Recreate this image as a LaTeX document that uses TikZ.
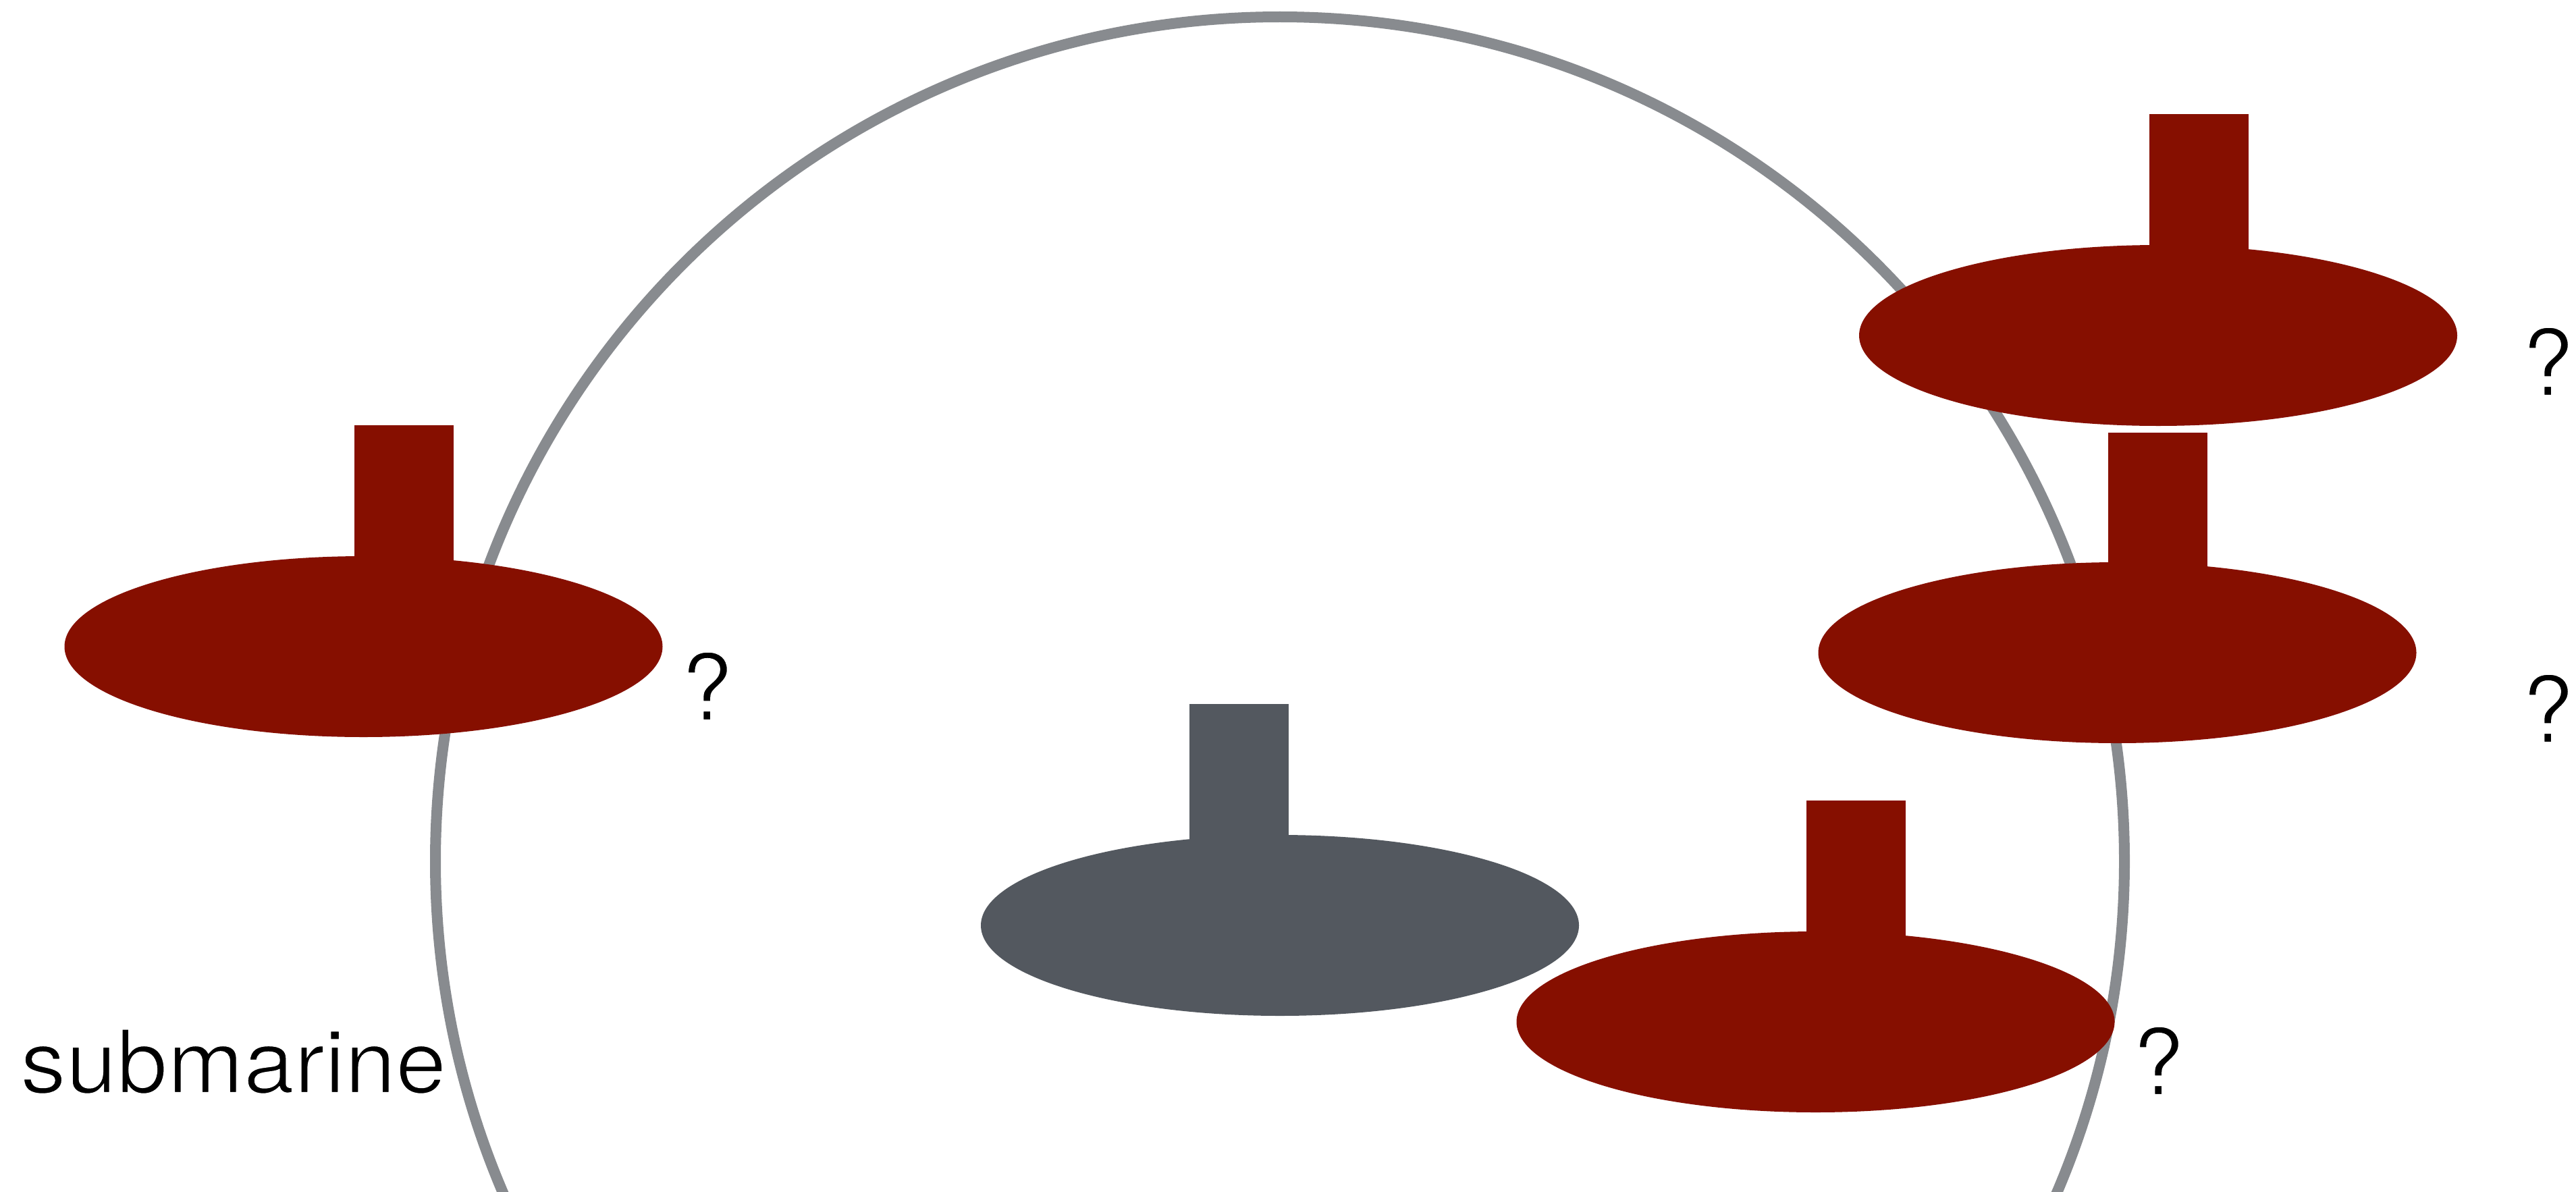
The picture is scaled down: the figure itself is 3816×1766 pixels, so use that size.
\documentclass[tikz,border=0pt]{standalone}
\usepackage{fontspec}
\setmainfont{TeX Gyre Heros}
\newfontfamily\spacedfont[FakeStretch=1.04]{TeX Gyre Heros}
\usetikzlibrary{shapes.geometric}
\definecolor{subred}{HTML}{860F00}
\definecolor{subgrey}{HTML}{53585F}
\definecolor{ringgrey}{HTML}{888B8F}
\newcommand{\thintext}[2]{\special{pdf:code q 1 1 1 RG #1 w 2 Tr}#2\special{pdf:code Q}}
\tikzset{
  hull/.style={ellipse,draw=none,inner sep=0pt,minimum width=886pt,minimum height=268pt},
  mast/.style={rectangle,draw=none,inner sep=0pt,minimum width=147pt,minimum height=260pt,anchor=north},
  qlabel/.style={inner sep=0pt,anchor=base west,font=\fontsize{137}{137}\selectfont},
  sublabel/.style={inner sep=0pt,anchor=base west,font=\spacedfont\fontsize{130}{130}\selectfont},
}
\begin{document}
\begin{tikzpicture}[x=1pt,y=-1pt]
\useasboundingbox (0,0) rectangle (3816,1766);
\clip (0,0) rectangle (3816,1766);
\fill[white] (0,0) rectangle (3816,1766);
\draw[ringgrey,line width=16pt] (1896,1276) circle[radius=1251pt];
% left
\node[mast,fill=subred] (m1) at (598,630) {};
\node[hull,fill=subred] (h1) at (538.5,958) {};
% top right
\node[mast,fill=subred] (m2) at (3257.5,169) {};
\node[hull,fill=subred] (h2) at (3197,497) {};
% middle right
\node[mast,fill=subred] (m3) at (3196.5,641) {};
\node[hull,fill=subred] (h3) at (3136.5,967) {};
% own submarine
\node[mast,fill=subgrey] (m4) at (1835,1043) {};
\node[hull,fill=subgrey] (h4) at (1896,1371) {};
% lower right
\node[mast,fill=subred] (m5) at (2749.5,1186) {};
\node[hull,fill=subred] (h5) at (2689.5,1514) {};
\node[sublabel] (s) at (30,1619) {\thintext{2.5}{submarine}};
\node[qlabel] (q1) at (1009,1067) {\thintext{2.5}{?}};
\node[qlabel] (q2) at (3736,586) {\thintext{2.5}{?}};
\node[qlabel] (q3) at (3736,1100) {\thintext{2.5}{?}};
\node[qlabel] (q4) at (3159,1622) {\thintext{2.5}{?}};
\end{tikzpicture}
\end{document}
